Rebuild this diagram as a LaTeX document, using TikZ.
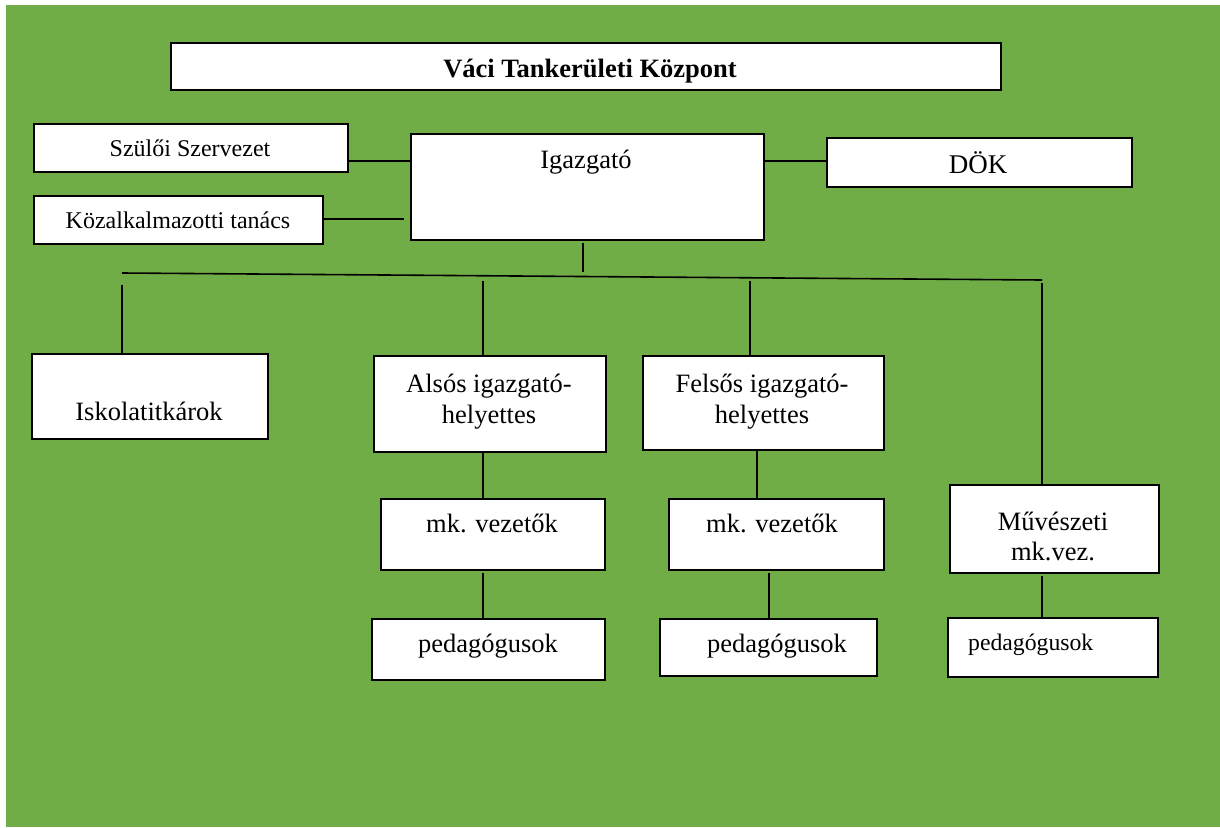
\documentclass[tikz,border=0pt]{standalone}
\usepackage{fontspec}
\setmainfont{Liberation Serif}
\definecolor{bggreen}{RGB}{112,173,71}
\tikzset{
  box/.style={draw=black, fill=white, line width=1.8pt, inner sep=0pt, anchor=north west},
  conn/.style={draw=black, line width=1.6pt},
  txt/.style={inner sep=0pt, anchor=base, text=black},
  fa/.style={font=\fontsize{24}{28}\selectfont},
  fb/.style={font=\fontsize{26.5}{30}\selectfont},
  fc/.style={font=\fontsize{27}{31}\selectfont},
  fd/.style={font=\fontsize{23.7}{28}\selectfont},
  ft/.style={font=\bfseries\fontsize{26.5}{30}\selectfont}
}
\newcommand{\mybox}[5]{\node[box, minimum width={(#4-#2)*1pt}, minimum height={(#5-#3)*1pt}] (#1) at (#2,#3) {};}
\begin{document}
\begin{tikzpicture}[x=1pt, y=-1pt]
\useasboundingbox (0,0) rectangle (1220,827);
\fill[bggreen] (6,5) rectangle (1220,827);

% boxes
\mybox{title}{170}{42}{1000}{89}
\mybox{szulo}{33}{123}{347}{171}
\mybox{kozal}{33}{195}{322}{243}
\mybox{ig}{410}{133}{763}{239}
\mybox{dok}{826}{137}{1131}{186}
\mybox{isk}{31}{353}{267}{438}
\mybox{also}{373}{355}{605}{451}
\mybox{felso}{642}{355}{883}{449}
\mybox{mka}{380}{498}{604}{569}
\mybox{mkb}{668}{498}{883}{569}
\mybox{mv}{949}{484}{1158}{572}
\mybox{peda}{371}{618}{604}{679}
\mybox{pedb}{659}{618}{876}{675}
\mybox{pedc}{947}{617}{1157}{676}

% texts
\node[txt, ft] (ttitle) at (590,77) {Váci Tankerületi Központ};
\node[txt, fa] (tszulo) at (190,156) {Szülői Szervezet};
\node[txt, fa] (tkozal) at (178,228) {Közalkalmazotti tanács};
\node[txt, fb] (tig) at (586,168) {Igazgató};
\node[txt, fc] (tdok) at (978,173) {DÖK};
\node[txt, fb] (tisk) at (149,420) {Iskolatitkárok};
\node[txt, fb] (talso1) at (489,392) {Alsós igazgató-};
\node[txt, fb] (talso2) at (489,423) {helyettes};
\node[txt, fb] (tfelso1) at (762,392) {Felsős igazgató-};
\node[txt, fb] (tfelso2) at (762,423) {helyettes};
\node[txt, fb] (tmka) at (492,532) {mk. vezetők};
\node[txt, fb] (tmkb) at (772,532) {mk. vezetők};
\node[txt, fb] (tmv1) at (1053,530) {Művészeti};
\node[txt, fb] (tmv2) at (1053,560) {mk.vez.};
\node[txt, fb] (tpeda) at (488,652) {pedagógusok};
\node[txt, fb] (tpedb) at (777,652) {pedagógusok};
\node[txt, fd, anchor=base west] (tpedc) at (968,650) {pedagógusok};

% connectors
\coordinate (busL) at (122,273);
\coordinate (busR) at (1042,280);
\draw[conn] (szulo.east |- 0,161) -- (ig.west |- 0,161);
\draw[conn] (kozal.east |- 0,219) -- ([xshift=-6pt]ig.west |- 0,219);
\draw[conn] (ig.east |- 0,161) -- (dok.west |- 0,161);
\draw[conn] (583,243) -- (583,272);
\draw[conn] (busL) -- (busR);
\draw[conn] (122,285) -- (isk.north -| 122,0);
\draw[conn] (483,281) -- (also.north -| 483,0);
\draw[conn] (750,281) -- (felso.north -| 750,0);
\draw[conn] (1042,283) -- (mv.north -| 1042,0);
\draw[conn] (also.south -| 483,0) -- (mka.north -| 483,0);
\draw[conn] (483,573) -- (peda.north -| 483,0);
\draw[conn] (felso.south -| 757,0) -- (mkb.north -| 757,0);
\draw[conn] (769,573) -- (pedb.north -| 769,0);
\draw[conn] (1042,576) -- (pedc.north -| 1042,0);
\end{tikzpicture}
\end{document}
